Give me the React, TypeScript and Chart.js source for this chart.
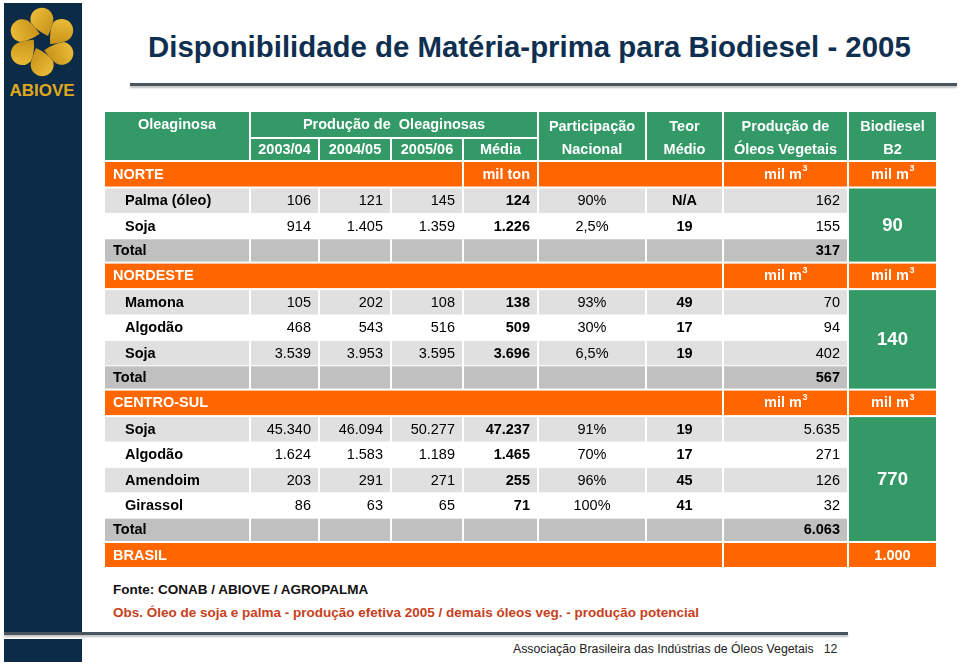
import React, { useEffect, useRef } from 'react';
import { Chart, registerables } from 'chart.js';
Chart.register(...registerables);

// ---------- DATA ----------
const titleText = 'Disponibilidade de Matéria-prima para Biodiesel - 2005';
const regionNames = ['NORTE', 'NORDESTE', 'CENTRO-SUL'];
const cropNames = ['Palma (óleo)', 'Soja', 'Mamona', 'Algodão', 'Soja', 'Soja', 'Algodão', 'Amendoim', 'Girassol'];
const cropRegion = [0, 0, 1, 1, 1, 2, 2, 2, 2];
const prod0304 = [106, 914, 105, 468, 3539, 45340, 1624, 203, 86];
const prod0405 = [121, 1405, 202, 543, 3953, 46094, 1583, 291, 63];
const prod0506 = [145, 1359, 108, 516, 3595, 50277, 1189, 271, 65];
const prodMedia = [124, 1226, 138, 509, 3696, 47237, 1465, 255, 71];
const participacao = [90, 2.5, 93, 30, 6.5, 91, 70, 96, 100];
const teorMedio: (number | null)[] = [null, 19, 49, 17, 19, 19, 17, 45, 41];
const oleos = [162, 155, 70, 94, 402, 5635, 271, 126, 32];
const regionOleoTotal = [317, 567, 6063];
const regionBiodiesel = [90, 140, 770];
const brasilLabel = 'BRASIL';
const brasilBiodiesel = 1000;
const yearLabels = ['2003/04', '2004/05', '2005/06', 'Média'];
const headOleaginosa = 'Oleaginosa';
const headProducao = 'Produção de  Oleaginosas';
const headRight = [['Participação', 'Nacional'], ['Teor', 'Médio'], ['Produção de', 'Óleos Vegetais'], ['Biodiesel', 'B2']];
const unitTon = 'mil ton';
const unitM3 = 'mil m';
const totalLabel = 'Total';
const fonteText = 'Fonte: CONAB / ABIOVE / AGROPALMA';
const obsText = 'Obs. Óleo de soja e palma - produção efetiva 2005 / demais óleos veg. - produção potencial';
const footerText = 'Associação Brasileira das Indústrias de Óleos Vegetais';
const pageNumber = '12';

// ---------- LAYOUT / STYLE ----------
const COL_EDGES = [0, 146, 215, 287, 359, 434, 542, 619, 744, 833];
const GAP = 2;
const PITCH: Record<string, number> = { h1: 27, h2: 23, region: 26.5, crop: 25.4, total: 24.3, brasil: 26 };
const GREEN = '#339966';
const ORANGE = '#FF6600';
const LIGHT = '#E0E0E0';
const MID = '#C0C0C0';
const FONT = '"Liberation Sans", Arial, sans-serif';

const fmt = (n: number) => String(n).replace(/\B(?=(\d{3})+(?!\d))/g, '.');
const fmtPct = (n: number) => String(n).replace('.', ',') + '%';

type Row = { type: string; r?: number; i?: number; k?: number; top: number; h: number };
function buildRows(): { rows: Row[]; total: number } {
  const rows: Row[] = [];
  let y = 0;
  const push = (o: any) => { const h = PITCH[o.type]; rows.push({ ...o, top: y, h }); y += h; };
  push({ type: 'h1' });
  push({ type: 'h2' });
  regionNames.forEach((_, r) => {
    push({ type: 'region', r });
    let k = 0;
    cropNames.forEach((_, i) => { if (cropRegion[i] === r) push({ type: 'crop', r, i, k: k++ }); });
    push({ type: 'total', r });
  });
  push({ type: 'brasil' });
  return { rows, total: y };
}
const { rows: ROWS, total: TABLE_H } = buildRows();

const tablePlugin = {
  id: 'tableDraw',
  afterDraw(chart: any) {
    const ctx = chart.ctx as CanvasRenderingContext2D;
    const X = (v: number) => chart.scales.x.getPixelForValue(v);
    const Y = (v: number) => chart.scales.y.getPixelForValue(v);
    const cell = (c0: number, c1: number, y0: number, y1: number, color: string | null, gy = GAP) => {
      const x0 = X(COL_EDGES[c0]);
      const x1 = X(COL_EDGES[c1 + 1] - GAP);
      const a = Y(y0), b = Y(y1 - gy);
      if (color) { ctx.fillStyle = color; ctx.fillRect(x0, a, x1 - x0, b - a); }
      return { x0, x1, y0: a, y1: b, cx: (x0 + x1) / 2, cy: (a + b) / 2 };
    };
    const txt = (s: string, x: number, y: number, align: CanvasTextAlign, bold: boolean, color: string, size = 14.5) => {
      ctx.font = `${bold ? 'bold ' : ''}${size}px ${FONT}`;
      ctx.fillStyle = color;
      ctx.textAlign = align;
      ctx.textBaseline = 'middle';
      ctx.fillText(s, x, y + 0.5);
    };
    const m3 = (x: number, y: number) => {
      ctx.font = `bold 14.5px ${FONT}`;
      const w1 = ctx.measureText(unitM3).width;
      ctx.font = `bold 9px ${FONT}`;
      const w2 = ctx.measureText('3').width;
      const left = x - (w1 + w2) / 2;
      txt(unitM3, left, y, 'left', true, '#fff');
      txt('3', left + w1 + 0.5, y - 6, 'left', true, '#fff', 9);
    };
    ctx.save();
    const h1 = ROWS[0], h2 = ROWS[1];
    // header
    let c = cell(0, 0, h1.top, h2.top + h2.h, GREEN);
    txt(headOleaginosa, c.cx, Y(h1.top + (h1.h - GAP) / 2), 'center', true, '#fff');
    c = cell(1, 4, h1.top, h1.top + h1.h, GREEN);
    txt(headProducao, c.cx, c.cy, 'center', true, '#fff');
    yearLabels.forEach((lab, j) => {
      const cc = cell(1 + j, 1 + j, h2.top, h2.top + h2.h, GREEN);
      txt(lab, cc.cx, cc.cy, 'center', true, '#fff');
    });
    headRight.forEach((lines, j) => {
      const cc = cell(5 + j, 5 + j, h1.top, h2.top + h2.h, GREEN);
      txt(lines[0], cc.cx, Y(h1.top + 14.5), 'center', true, '#fff');
      txt(lines[1], cc.cx, Y(h2.top + (h2.h - GAP) / 2), 'center', true, '#fff');
    });
    ROWS.forEach((row) => {
      const y0 = row.top, y1 = row.top + row.h;
      if (row.type === 'region') {
        const r = row.r as number;
        if (r === 0) {
          const a = cell(0, 3, y0, y1, ORANGE);
          txt(regionNames[r], X(8), a.cy, 'left', true, '#fff');
          const b = cell(4, 4, y0, y1, ORANGE);
          txt(unitTon, b.x1 - 7, b.cy, 'right', true, '#fff');
          cell(5, 6, y0, y1, ORANGE);
        } else {
          const a = cell(0, 6, y0, y1, ORANGE);
          txt(regionNames[r], X(8), a.cy, 'left', true, '#fff');
        }
        const d = cell(7, 7, y0, y1, ORANGE);
        m3(d.cx, d.cy);
        const e = cell(8, 8, y0, y1, ORANGE);
        m3(e.cx, e.cy);
      } else if (row.type === 'crop') {
        const i = row.i as number;
        const fill = (row.k as number) % 2 === 0 ? LIGHT : null;
        const cs = [0, 1, 2, 3, 4, 5, 6, 7].map((j) => cell(j, j, y0, y1, fill, 1));
        const cy = cs[0].cy;
        txt(cropNames[i], X(20), cy, 'left', true, '#000');
        txt(fmt(prod0304[i]), cs[1].x1 - 7, cy, 'right', false, '#000');
        txt(fmt(prod0405[i]), cs[2].x1 - 7, cy, 'right', false, '#000');
        txt(fmt(prod0506[i]), cs[3].x1 - 7, cy, 'right', false, '#000');
        txt(fmt(prodMedia[i]), cs[4].x1 - 7, cy, 'right', true, '#000');
        txt(fmtPct(participacao[i]), cs[5].cx, cy, 'center', false, '#000');
        const t = teorMedio[i];
        txt(t === null ? 'N/A' : String(t), cs[6].cx, cy, 'center', true, '#000');
        txt(fmt(oleos[i]), cs[7].x1 - 7, cy, 'right', false, '#000');
      } else if (row.type === 'total') {
        const r = row.r as number;
        const cs = [0, 1, 2, 3, 4, 5, 6, 7].map((j) => cell(j, j, y0, y1, MID));
        txt(totalLabel, X(8), cs[0].cy, 'left', true, '#000');
        txt(fmt(regionOleoTotal[r]), cs[7].x1 - 7, cs[7].cy, 'right', true, '#000');
        const first = ROWS.find((q) => q.type === 'crop' && q.r === r) as Row;
        const g = cell(8, 8, first.top, y1, GREEN);
        txt(String(regionBiodiesel[r]), g.cx, g.cy, 'center', true, '#fff', 18.5);
      } else if (row.type === 'brasil') {
        const a = cell(0, 6, y0, y1, ORANGE);
        txt(brasilLabel, X(8), a.cy, 'left', true, '#fff');
        cell(7, 7, y0, y1, ORANGE);
        const e = cell(8, 8, y0, y1, ORANGE);
        txt(fmt(brasilBiodiesel), e.cx, e.cy, 'center', true, '#fff');
      }
    });
    ctx.restore();
  },
};

function Logo() {
  const petal = 'M 6 -6 Q -5 -11, -11 -19 A 11.5 11.5 0 1 1 11 -20 Q 9 -12, 6 -6 Z';
  return (
    <svg width={78} height={100} style={{ position: 'absolute', left: 0, top: 0 }}>
      <defs>
        <linearGradient id="gold" x1="0" y1="0" x2="1" y2="1">
          <stop offset="0" stopColor="#f0c23c" />
          <stop offset="1" stopColor="#c28c14" />
        </linearGradient>
      </defs>
      <g transform="translate(38 39)">
        {[0, 60, 120, 180, 240, 300].map((a) => (
          <path key={a} d={petal} fill="url(#gold)" transform={`rotate(${a})`} />
        ))}
      </g>
      <text x={38} y={93} textAnchor="middle" fill="#e0a820" fontFamily={FONT} fontWeight="bold" fontSize={17}>ABIOVE</text>
    </svg>
  );
}

export default function App() {
  const ref = useRef<HTMLCanvasElement>(null);
  useEffect(() => {
    document.body.style.margin = '0';
    const chart = new Chart(ref.current as HTMLCanvasElement, {
      type: 'scatter',
      data: { datasets: [] },
      options: {
        responsive: false,
        animation: false,
        events: [],
        layout: { padding: 0 },
        plugins: { legend: { display: false }, tooltip: { enabled: false }, title: { display: false } },
        scales: {
          x: { type: 'linear', min: 0, max: COL_EDGES[COL_EDGES.length - 1], display: false },
          y: { type: 'linear', min: 0, max: TABLE_H, reverse: true, display: false },
        },
      },
      plugins: [tablePlugin],
    } as any);
    return () => chart.destroy();
  }, []);

  const lineStyle = (left: number, top: number, width: number): React.CSSProperties => ({
    position: 'absolute', left, top, width, height: 3, background: '#4a545c',
    boxShadow: '0 2px 2px rgba(0,0,0,0.25)',
  });

  return (
    <div style={{ position: 'absolute', left: 0, top: 0, width: 960, height: 664, background: '#fff', overflow: 'hidden', fontFamily: FONT }}>
      <div style={{ position: 'absolute', left: 4, top: 3, width: 78, height: 629, background: '#0c2b46' }}>
        <Logo />
      </div>
      <div style={{ position: 'absolute', left: 4, top: 639, width: 78, height: 23, background: '#0c2b46' }} />
      <div style={{ position: 'absolute', left: 148, top: 32, fontSize: 29.4, lineHeight: '29px', fontWeight: 'bold', color: '#0f2f50', whiteSpace: 'nowrap' }}>{titleText}</div>
      <div style={lineStyle(130, 83, 827)} />
      <canvas ref={ref} width={833} height={Math.ceil(TABLE_H)} style={{ position: 'absolute', left: 105, top: 112 }} />
      <div style={{ position: 'absolute', left: 113, top: 582, fontSize: 13.5, lineHeight: '16px', fontWeight: 'bold', color: '#111', whiteSpace: 'nowrap' }}>{fonteText}</div>
      <div style={{ position: 'absolute', left: 113, top: 605, fontSize: 13.5, lineHeight: '16px', fontWeight: 'bold', color: '#c8401a', whiteSpace: 'nowrap' }}>{obsText}</div>
      <div style={lineStyle(4, 632, 844)} />
      <div style={{ position: 'absolute', left: 513, top: 641, fontSize: 12.3, lineHeight: '16px', color: '#222', whiteSpace: 'nowrap' }}>
        {footerText}
        <span style={{ marginLeft: 10 }}>{pageNumber}</span>
      </div>
    </div>
  );
}
